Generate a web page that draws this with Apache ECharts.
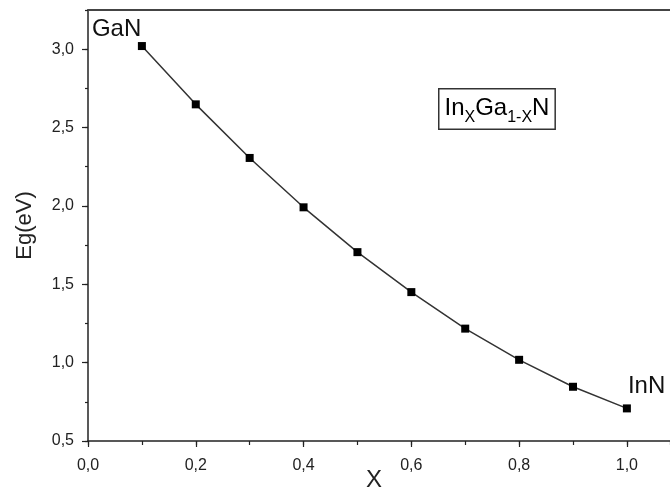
<!DOCTYPE html>
<html>
<head>
<meta charset="utf-8">
<script src="https://cdn.jsdelivr.net/npm/echarts@6/dist/echarts.min.js"></script>
<style>
html,body{margin:0;padding:0;background:#fff;}
#chart{width:670px;height:492px;}
</style>
</head>
<body>
<div id="chart"></div>
<script>
// Data
var xValues = [0.1, 0.2, 0.3, 0.4, 0.5, 0.6, 0.7, 0.8, 0.9, 1.0];
var egValues = [3.02, 2.648, 2.306, 1.991, 1.705, 1.450, 1.217, 1.018, 0.846, 0.708];
var pointLabels = ['GaN', '', '', '', '', '', '', '', '', 'InN'];
var xTickLabels = ['0,0', '0,2', '0,4', '0,6', '0,8', '1,0'];
var yTickLabels = ['0,5', '1,0', '1,5', '2,0', '2,5', '3,0'];

var FONT = 'Liberation Sans, Arial, sans-serif';
var AX = '#222';

function fmt(v) { return v.toFixed(1).replace('.', ','); }

var data = xValues.map(function (x, i) {
  var item = { value: [x, egValues[i]] };
  if (i === 0) {
    item.label = { show: true, formatter: pointLabels[i], position: [-46, -25], align: 'left', verticalAlign: 'top' };
  } else if (i === xValues.length - 1) {
    item.label = { show: true, formatter: pointLabels[i], position: [5, -30], align: 'left', verticalAlign: 'top' };
  }
  return item;
});

var chart = echarts.init(document.getElementById('chart'), null, { renderer: 'canvas' });

chart.setOption({
  animation: false,
  backgroundColor: '#fff',
  grid: { left: 88, top: 10, bottom: 51, right: 0, show: false, containLabel: false, outerBoundsMode: 'none' },
  xAxis: [
    {
      type: 'value', min: 0, max: 1.08, interval: 0.2,
      position: 'bottom',
      name: 'X', nameLocation: 'middle', nameGap: 27, nameMoveOverlap: false,
      nameTextStyle: { fontFamily: FONT, fontSize: 24, color: AX, padding: [0, 10, 0, 0] },
      axisLine: { onZero: false, lineStyle: { color: AX, width: 1.5 } },
      axisTick: { inside: false, length: 6, lineStyle: { color: AX, width: 1.2 } },
      axisLabel: {
        fontFamily: FONT, fontSize: 16, color: AX, margin: 17, showMaxLabel: false,
        formatter: function (v) { return fmt(v); }
      },
      splitLine: { show: false }
    },
    {
      type: 'value', min: 0, max: 1.08, interval: 0.1,
      position: 'bottom',
      axisLine: { show: false, onZero: false },
      axisTick: { inside: false, length: 4, lineStyle: { color: AX, width: 1.2 } },
      axisLabel: { show: false },
      splitLine: { show: false }
    },
    {
      type: 'value', min: 0, max: 1.08,
      position: 'top',
      axisLine: { show: true, onZero: false, lineStyle: { color: '#444', width: 2 } },
      axisTick: { show: false },
      axisLabel: { show: false },
      splitLine: { show: false }
    }
  ],
  yAxis: [
    {
      type: 'value', min: 0.5, max: 3.25, interval: 0.5,
      position: 'left',
      name: 'Eg(eV)', nameLocation: 'middle', nameGap: 52, nameMoveOverlap: false,
      nameTextStyle: { fontFamily: FONT, fontSize: 22, color: AX },
      axisLine: { onZero: false, lineStyle: { color: AX, width: 1.5 } },
      axisTick: { inside: false, length: 6, lineStyle: { color: AX, width: 1.2 } },
      axisLabel: {
        fontFamily: FONT, fontSize: 16, color: AX, margin: 14, showMaxLabel: false,
        formatter: function (v) { return fmt(v); }
      },
      splitLine: { show: false }
    },
    {
      type: 'value', min: 0.5, max: 3.25, interval: 0.25,
      position: 'left',
      axisLine: { show: false, onZero: false },
      axisTick: { inside: false, length: 3, lineStyle: { color: AX, width: 1.2 } },
      axisLabel: { show: false },
      splitLine: { show: false }
    }
  ],
  series: [{
    type: 'line',
    xAxisIndex: 0, yAxisIndex: 0,
    data: data,
    symbol: 'rect', symbolSize: 8,
    itemStyle: { color: '#000' },
    lineStyle: { color: '#333', width: 1.5 },
    label: { fontFamily: FONT, fontSize: 24, color: '#111' }
  }],
  graphic: [{
    type: 'text',
    left: 438, top: 88,
    style: {
      text: '{m|In}{s|X}{m|Ga}{s|1-X}{m|N}',
      rich: {
        m: { fontFamily: FONT, fontSize: 24, color: '#111', lineHeight: 34, verticalAlign: 'middle' },
        s: { fontFamily: FONT, fontSize: 16, color: '#111', lineHeight: 16, verticalAlign: 'bottom' }
      },
      backgroundColor: '#fff',
      borderColor: '#333', borderWidth: 1.5,
      padding: [2, 5, 3, 5]
    }
  }]
});
</script>
</body>
</html>
